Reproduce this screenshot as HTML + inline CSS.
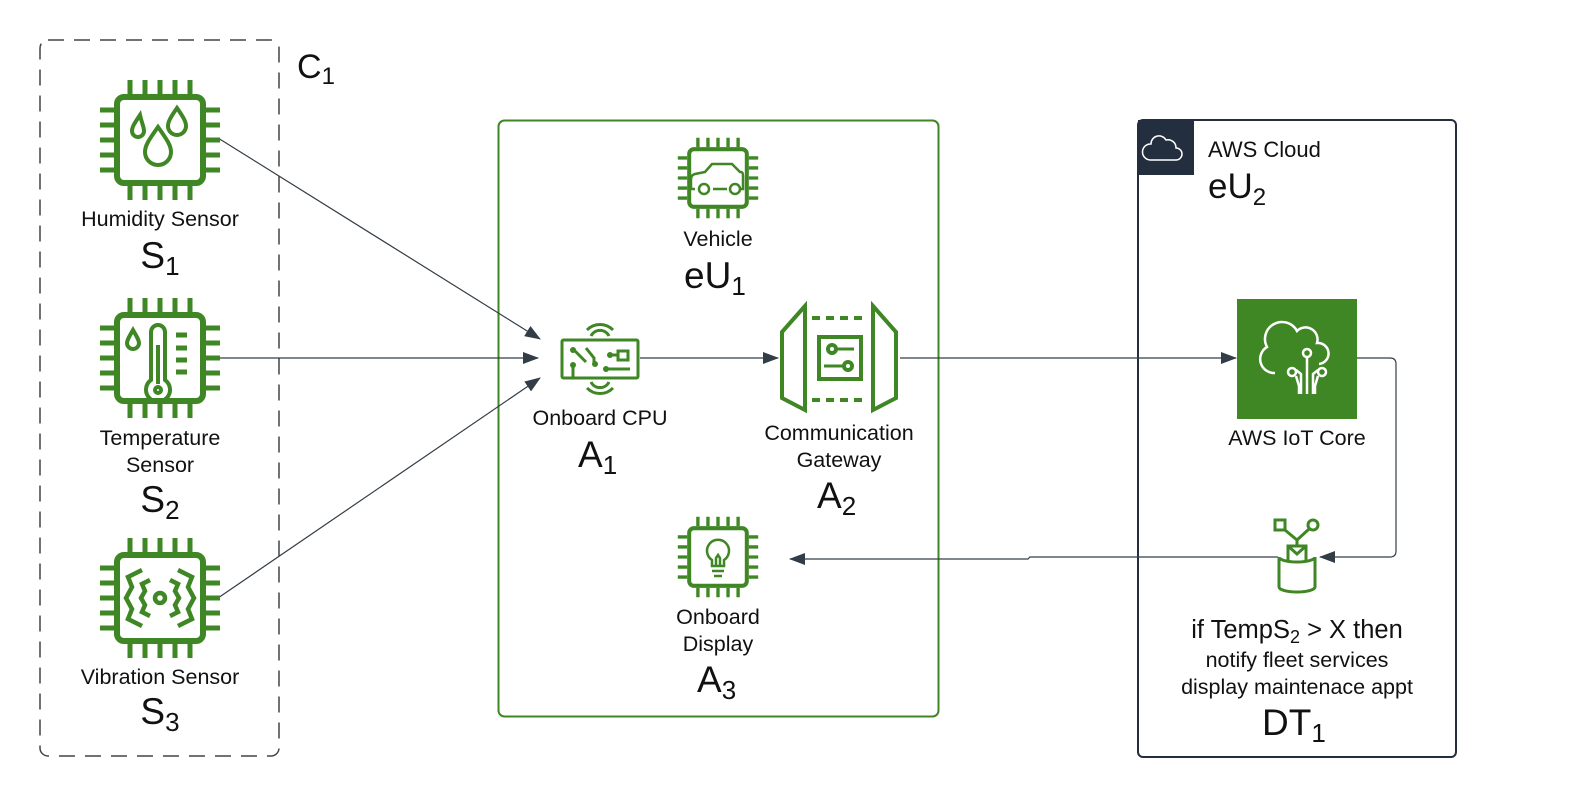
<!DOCTYPE html>
<html><head><meta charset="utf-8"><style>
html,body{margin:0;padding:0;background:#fff;}
svg{display:block;}
text{font-family:"Liberation Sans",Arial,sans-serif;fill:#111;}
</style></head><body>
<svg width="1573" height="800" viewBox="0 0 1573 800" xmlns="http://www.w3.org/2000/svg">
<defs>
<g id="chip" fill="none" stroke="#3f8624">
<rect x="-43" y="-43" width="86" height="86" rx="7" stroke-width="6"/>
<g stroke-width="5">
<path d="M-30,-46V-60M-15,-46V-60M0,-46V-60M15,-46V-60M30,-46V-60"/>
<path d="M-30,46V60M-15,46V60M0,46V60M15,46V60M30,46V60"/>
<path d="M-46,-30H-60M-46,-15H-60M-46,0H-60M-46,15H-60M-46,30H-60"/>
<path d="M46,-30H60M46,-15H60M46,0H60M46,15H60M46,30H60"/>
</g></g>
<marker id="ah2" markerWidth="16" markerHeight="12" refX="15" refY="6" orient="auto" markerUnits="userSpaceOnUse">
<path d="M0,0L16,6L0,12Z" fill="#333d47"/></marker>
</defs>

<rect x="40" y="40" width="239" height="716" rx="8" fill="none" stroke="#444" stroke-width="1.5" stroke-dasharray="16,10"/>
<text x="297" y="78" font-size="34">C<tspan font-size="24" dy="6">1</tspan></text>
<rect x="498.5" y="120.5" width="440" height="596" rx="6" fill="none" stroke="#3f8624" stroke-width="2"/>
<rect x="1138" y="120" width="318" height="637" rx="5" fill="none" stroke="#232f3e" stroke-width="2"/>
<rect x="1138" y="120" width="56" height="55" fill="#232f3e"/>
<path d="M1150,160 h26 a6,6 0 0 0 0,-12 a8,8 0 0 0 -10,-8 a8,8 0 0 0 -15,4 a7,7 0 0 0 -1,16z" fill="none" stroke="#fff" stroke-width="1.5"/>
<text x="1208" y="157" font-size="22">AWS Cloud</text>
<text x="1208" y="198" font-size="35">eU<tspan font-size="24" dy="7">2</tspan></text>

<g stroke="#333d47" stroke-width="1.2" fill="none">
<path d="M218,138L540,339" marker-end="url(#ah2)"/>
<path d="M218,358H538" marker-end="url(#ah2)"/>
<path d="M218,598L540,378" marker-end="url(#ah2)"/>
<path d="M640,358H778" marker-end="url(#ah2)"/>
<path d="M900,358H1236" marker-end="url(#ah2)"/>
<path d="M1357,358H1390q6,0 6,6V551q0,6 -6,6H1320" marker-end="url(#ah2)"/>
<path d="M1278,557H1030L1028,559H790" marker-end="url(#ah2)"/>
</g>

<use href="#chip" x="160" y="140"/>
<g fill="none" stroke="#3f8624" stroke-width="4">
<path d="M140,115c-6,9 -8,12 -8,16a6,6 0 0 0 12,0c0,-4 -2,-7 -4,-16z"/>
<path d="M177,108c-7,10 -9,14 -9,18a9,9 0 0 0 18,0c0,-4 -2,-8 -9,-18z"/>
<path d="M158,127c-10,14 -13,19 -13,25a13,13 0 0 0 26,0c0,-6 -3,-11 -13,-25z"/>
</g>
<text x="160" y="226" font-size="21.5" text-anchor="middle">Humidity Sensor</text>
<text x="160" y="268" font-size="37" text-anchor="middle">S<tspan font-size="26" dy="7">1</tspan></text>

<use href="#chip" x="160" y="358"/>
<g fill="none" stroke="#3f8624" stroke-width="4">
<path d="M133,330c-4,7 -6,10 -6,13a6,6 0 0 0 12,0c0,-3 -2,-6 -6,-13z"/>
<path d="M151,380V332a7,7 0 0 1 14,0V380a12,12 0 1 1 -14,0z"/>
<path d="M158,345V384"/>
<circle cx="158" cy="390" r="3"/>
<path d="M176,335h11M176,348h11M176,360h11M176,372h11" stroke-width="5"/>
</g>
<text x="160" y="445" font-size="21.5" text-anchor="middle">Temperature</text>
<text x="160" y="472" font-size="21.5" text-anchor="middle">Sensor</text>
<text x="160" y="512" font-size="37" text-anchor="middle">S<tspan font-size="26" dy="7">2</tspan></text>

<use href="#chip" x="160" y="598"/>
<g fill="none" stroke="#3f8624" stroke-width="4.5">
<path d="M142,570l-14,7l4,10l-6,11l6,11l-4,10l14,7"/>
<path d="M150,580l-8,4l3,7l-4,7l4,7l-3,7l8,4"/>
<path d="M178,570l14,7l-4,10l6,11l-6,11l4,10l-14,7"/>
<path d="M170,580l8,4l-3,7l4,7l-4,7l3,7l-8,4"/>
<circle cx="160" cy="598" r="5"/>
</g>
<text x="160" y="684" font-size="21.5" text-anchor="middle">Vibration Sensor</text>
<text x="160" y="724" font-size="37" text-anchor="middle">S<tspan font-size="26" dy="7">3</tspan></text>

<g transform="translate(718,178) scale(0.67)"><use href="#chip"/></g>
<g fill="none" stroke="#3f8624" stroke-width="2.5">
<path d="M695,189h-4v-10q0,-4 4,-5l10,-2l7,-8h20l8,8h1q2,0 2,4v13h-4M713,189h14"/>
<circle cx="704" cy="189" r="5"/><circle cx="735" cy="189" r="5"/>
</g>
<text x="718" y="246" font-size="21.5" text-anchor="middle">Vehicle</text>
<text x="684" y="288" font-size="37">eU<tspan font-size="26" dy="7">1</tspan></text>

<g fill="none" stroke="#3f8624" stroke-width="3">
<rect x="562" y="340" width="76" height="38" rx="1.5"/>
<path d="M587,330a18,18 0 0 1 26,0M591,336a10,10 0 0 1 18,0M587,388a18,18 0 0 0 26,0M591,382a10,10 0 0 0 18,0"/>
<path d="M574,350l12,12M586,348l8,10v6M610,355h8M606,369h24M573,366v12"/>
<rect x="618" y="351" width="10" height="9"/>
</g>
<g fill="#3f8624"><circle cx="573" cy="350" r="3"/><circle cx="595" cy="364" r="3"/><circle cx="610" cy="355" r="3"/><circle cx="606" cy="369" r="3"/><circle cx="573" cy="365" r="3"/></g>
<text x="600" y="425" font-size="21.5" text-anchor="middle">Onboard CPU</text>
<text x="578" y="467" font-size="37">A<tspan font-size="26" dy="7">1</tspan></text>

<g fill="none" stroke="#3f8624" stroke-width="4">
<path d="M805,306L782,332V398L805,410Z"/>
<path d="M873,306L896,332V398L873,410Z"/>
<path d="M812,318h56M812,400h56" stroke-dasharray="8,6"/>
<rect x="819" y="337" width="42" height="42"/>
<circle cx="832" cy="349" r="4"/><circle cx="848" cy="366" r="4"/>
<path d="M836,349h18M824,366h20" stroke-width="3"/>
</g>
<text x="839" y="440" font-size="21.5" text-anchor="middle">Communication</text>
<text x="839" y="467" font-size="21.5" text-anchor="middle">Gateway</text>
<text x="817" y="508" font-size="37">A<tspan font-size="26" dy="7">2</tspan></text>

<g transform="translate(718,557) scale(0.67)"><use href="#chip"/></g>
<g fill="none" stroke="#3f8624" stroke-width="2.5">
<path d="M712,566v-6a11,11 0 1 1 12,0v6z"/>
<path d="M712,571h12M714,576h8M716,566v-8l2,-3l2,3v8"/>
</g>
<text x="718" y="624" font-size="21.5" text-anchor="middle">Onboard</text>
<text x="718" y="651" font-size="21.5" text-anchor="middle">Display</text>
<text x="697" y="692" font-size="37">A<tspan font-size="26" dy="7">3</tspan></text>

<rect x="1237" y="299" width="120" height="120" fill="#3f8624"/>
<g fill="none" stroke="#fff" stroke-width="2.5">
<path d="M1275,373a14,14 0 0 1 -8,-26a16,16 0 0 1 30,-16a12,12 0 0 1 20,12a10,10 0 0 1 2,21"/>
<circle cx="1307" cy="353" r="4"/><circle cx="1292" cy="372" r="4"/><circle cx="1322" cy="372" r="4"/>
<path d="M1307,357v37M1301,394v-20l-5,-4M1313,394v-20l5,-4M1296,376l3,10v8M1318,376l-3,10v8"/>
</g>
<text x="1297" y="445" font-size="21.5" text-anchor="middle">AWS IoT Core</text>

<g fill="none" stroke="#3f8624" stroke-width="3">
<rect x="1275" y="520" width="10" height="10"/>
<circle cx="1313" cy="525" r="5"/>
<path d="M1285,530l12,10l12,-11M1297,540v6"/>
<path d="M1279,557v30a18,5 0 0 0 36,0v-30"/>
<path d="M1279,557a18,5 0 0 0 36,0"/>
<path d="M1288,560v-14h18v14M1288,546l9,8l9,-8"/>
</g>
<text x="1297" y="638" font-size="25.5" text-anchor="middle">if TempS<tspan font-size="18" dy="5">2</tspan><tspan dy="-5"> &gt; X then</tspan></text>
<text x="1297" y="667" font-size="21.5" text-anchor="middle">notify fleet services</text>
<text x="1297" y="694" font-size="21.5" text-anchor="middle">display maintenace appt</text>
<text x="1262" y="735" font-size="37">DT<tspan font-size="26" dy="7">1</tspan></text>
</svg>
</body></html>
